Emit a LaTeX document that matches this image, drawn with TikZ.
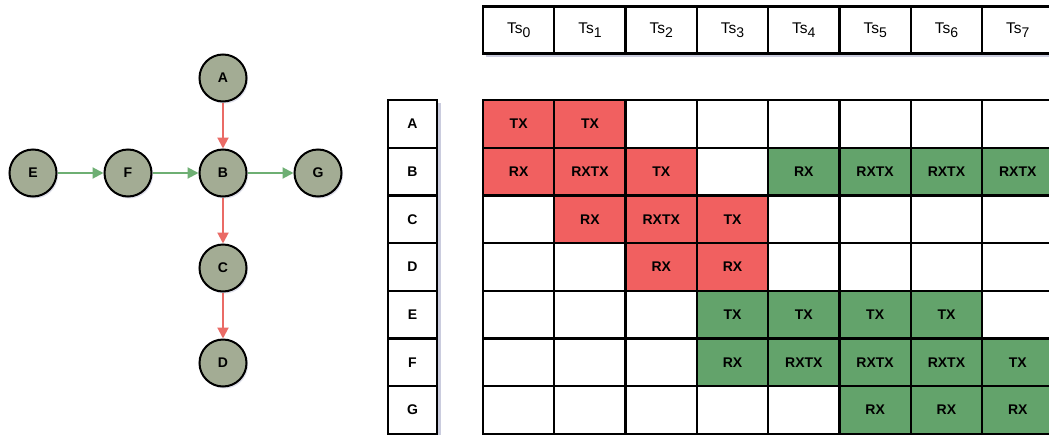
\documentclass[tikz,border=0pt]{standalone}
\usepackage{fontspec}
\setmainfont{Liberation Sans}
\usetikzlibrary{arrows.meta,shadows}

\definecolor{cred}{RGB}{241,96,96}
\definecolor{cgreen}{RGB}{99,163,107}
\definecolor{vfill}{RGB}{163,172,148}
\definecolor{ared}{RGB}{234,107,102}
\definecolor{agreen}{RGB}{110,175,115}
\definecolor{shadowc}{RGB}{150,155,190}

\tikzset{
  cell/.style={draw=black, line width=2.3pt, minimum width=71.3pt, minimum height=47.7pt,
    inner sep=0pt, anchor=center, font=\fontsize{14}{14}\selectfont\bfseries},
  headcell/.style={cell, fill=white, minimum height=47pt, font=\fontsize{15.5}{15.5}\selectfont},
  rowlabel/.style={cell, fill=white, minimum width=49pt},
  vertex/.style={circle, draw=black, line width=2pt, fill=vfill, minimum size=47pt, inner sep=0pt,
    font=\fontsize{14}{14}\selectfont\bfseries,
    drop shadow={shadow xshift=1.5pt, shadow yshift=-2pt, opacity=0.3, fill=shadowc}},
  redarrow/.style={draw=ared, line width=2pt, -{Triangle[length=11pt,width=11pt]}},
  greenarrow/.style={draw=agreen, line width=2pt, -{Triangle[length=11pt,width=11pt]}},
}

\newcommand{\tslabel}[1]{Ts\raisebox{-4pt}{\fontsize{14}{14}\selectfont #1}}

\begin{document}
\begin{tikzpicture}[x=1pt, y=-1pt]
  \clip (0,0) rectangle (1049,434);
  \fill[white] (0,0) rectangle (1049,434);

  % --- topology graph ---
  \node[vertex] (A) at (223,78)  {A};
  \node[vertex] (B) at (223,173) {B};
  \node[vertex] (C) at (223,268) {C};
  \node[vertex] (D) at (223,363) {D};
  \node[vertex] (E) at (33,173)  {E};
  \node[vertex] (F) at (128,173) {F};
  \node[vertex] (G) at (318,173) {G};

  \draw[redarrow] (A) -- (B);
  \draw[redarrow] (B) -- (C);
  \draw[redarrow] (C) -- (D);
  \draw[greenarrow] (E) -- (F);
  \draw[greenarrow] (F) -- (B);
  \draw[greenarrow] (B) -- (G);

  % --- soft shadows behind header row and label column ---
  \fill[shadowc, opacity=0.5] (486,9) rectangle (1060,57);
  \fill[shadowc, opacity=0.5] (391,103) rectangle (441,440);

  % --- timeslot header ---
  \foreach \c in {0,...,7} {
    \node[headcell] (h\c) at ({483+71.3*(\c+0.5)},30) {\tslabel{\c}};
  }

  % --- row labels ---
  \foreach \n [count=\r from 0] in {A,B,C,D,E,F,G} {
    \node[rowlabel] (l\n) at (412.5,{100+47.7*(\r+0.5)}) {\n};
  }

  % --- schedule grid ---
  \foreach \row [count=\r from 0] in {%
    {cred/TX,cred/TX,white/{},white/{},white/{},white/{},white/{},white/{}},%
    {cred/RX,cred/RXTX,cred/TX,white/{},cgreen/RX,cgreen/RXTX,cgreen/RXTX,cgreen/RXTX},%
    {white/{},cred/RX,cred/RXTX,cred/TX,white/{},white/{},white/{},white/{}},%
    {white/{},white/{},cred/RX,cred/RX,white/{},white/{},white/{},white/{}},%
    {white/{},white/{},white/{},cgreen/TX,cgreen/TX,cgreen/TX,cgreen/TX,white/{}},%
    {white/{},white/{},white/{},cgreen/RX,cgreen/RXTX,cgreen/RXTX,cgreen/RXTX,cgreen/TX},%
    {white/{},white/{},white/{},white/{},white/{},cgreen/RX,cgreen/RX,cgreen/RX}} {
    \foreach \s/\t [count=\c from 0] in \row {
      \node[cell, fill=\s] (cell-\r-\c) at ({483+71.3*(\c+0.5)},{100+47.7*(\r+0.5)}) {\t};
    }
  }
\end{tikzpicture}
\end{document}
